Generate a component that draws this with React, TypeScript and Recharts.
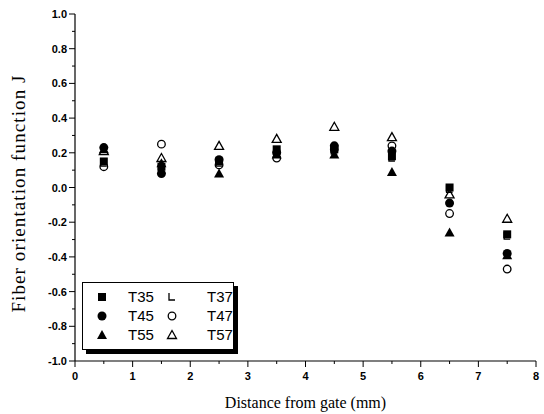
import React from 'react';
import { ScatterChart, Scatter, XAxis, YAxis } from 'recharts';

const positions = [0.5, 1.5, 2.5, 3.5, 4.5, 5.5, 6.5, 7.5];
const t35 = [0.15, 0.12, 0.15, 0.22, 0.22, 0.18, 0.0, -0.27];
const t37 = [0.14, 0.11, 0.14, 0.21, 0.21, 0.17, -0.01, -0.28];
const t45 = [0.23, 0.08, 0.16, 0.2, 0.24, 0.21, -0.09, -0.38];
const t47 = [0.12, 0.25, 0.13, 0.17, 0.22, 0.24, -0.15, -0.47];
const t55 = [0.22, 0.14, 0.08, 0.19, 0.19, 0.09, -0.26, -0.39];
const t57 = [0.21, 0.17, 0.24, 0.28, 0.35, 0.29, -0.04, -0.18];

const yTicks = [-1.0, -0.9, -0.8, -0.7, -0.6, -0.5, -0.4, -0.3, -0.2, -0.1, 0.0, 0.1, 0.2, 0.3, 0.4, 0.5, 0.6, 0.7, 0.8, 0.9, 1.0];
const xTicks = [0, 0.5, 1, 1.5, 2, 2.5, 3, 3.5, 4, 4.5, 5, 5.5, 6, 6.5, 7, 7.5, 8];

const toPts = (vals: number[]) => positions.map((x, i) => ({ x, y: vals[i] }));

const S = 4.5;
const Square = (p: any) => <rect x={p.cx - S + 0.5} y={p.cy - S + 0.5} width={2 * S - 1} height={2 * S - 1} fill="#000" />;
const Circle = (p: any) => <circle cx={p.cx} cy={p.cy} r={S} fill="#000" />;
const OpenCircle = (p: any) => <circle cx={p.cx} cy={p.cy} r={S - 0.7} fill="#fff" stroke="#000" strokeWidth={1.3} />;
const Tri = (p: any) => <polygon points={`${p.cx},${p.cy - S - 0.5} ${p.cx + S + 0.5},${p.cy + S - 0.5} ${p.cx - S - 0.5},${p.cy + S - 0.5}`} fill="#000" />;
const OpenTri = (p: any) => <polygon points={`${p.cx},${p.cy - S} ${p.cx + S},${p.cy + S - 1} ${p.cx - S},${p.cy + S - 1}`} fill="#fff" stroke="#000" strokeWidth={1.3} />;
const LMark = (p: any) => <path d={`M${p.cx - 3},${p.cy - 4} L${p.cx - 3},${p.cy + 3} L${p.cx + 3},${p.cy + 3}`} fill="none" stroke="#000" strokeWidth={1.3} />;

const tickFont = '"Liberation Sans", Arial, sans-serif';
const serif = '"Liberation Serif", "Times New Roman", serif';

const isMajor = (v: number, step: number) => Math.abs(Math.round(v / step) * step - v) < 1e-6;

const YTick = (p: any) => {
  const v = p.payload.value;
  const major = isMajor(v, 0.2);
  const x = p.x;
  const y = p.y;
  return (
    <g>
      <line x1={x - (major ? 6 : 3)} x2={x} y1={y} y2={y} stroke="#000" strokeWidth={1} />
      {major && (
        <text x={x - 8} y={y + 4} textAnchor="end" fontSize={11} fontFamily={tickFont} fontWeight="bold" fill="#000">
          {v.toFixed(1)}
        </text>
      )}
    </g>
  );
};

const XTick = (p: any) => {
  const v = p.payload.value;
  const major = isMajor(v, 1);
  const x = p.x;
  const y = p.y;
  return (
    <g>
      <line x1={x} x2={x} y1={y} y2={y + (major ? 6 : 3)} stroke="#000" strokeWidth={1} />
      {major && (
        <text x={x} y={y + 19} textAnchor="middle" fontSize={11} fontFamily={tickFont} fontWeight="bold" fill="#000">
          {String(v)}
        </text>
      )}
    </g>
  );
};

const legendItems = [
  [{ m: 'sq', l: 'T35' }, { m: 'L', l: 'T37' }],
  [{ m: 'ci', l: 'T45' }, { m: 'oc', l: 'T47' }],
  [{ m: 'tr', l: 'T55' }, { m: 'ot', l: 'T57' }],
];

const LegendIcon = ({ m }: { m: string }) => {
  const p = { cx: 7, cy: 7 };
  return (
    <svg width={14} height={14} style={{ display: 'block' }}>
      {m === 'sq' && <Square {...p} />}
      {m === 'L' && <LMark {...p} />}
      {m === 'ci' && <Circle {...p} />}
      {m === 'oc' && <OpenCircle {...p} />}
      {m === 'tr' && <Tri {...p} />}
      {m === 'ot' && <OpenTri {...p} />}
    </svg>
  );
};

export default function App() {
  return (
    <div style={{ position: 'absolute', left: 0, top: 0, width: 544, height: 414, background: '#fff' }}>
      <ScatterChart width={544} height={414} margin={{ top: 14, right: 8, bottom: 0, left: 0 }}>
        <XAxis
          type="number"
          dataKey="x"
          domain={[0, 8]}
          ticks={xTicks}
          interval={0}
          tick={<XTick />}
          tickLine={false}
          tickSize={0}
          tickMargin={0}
          axisLine={{ stroke: '#000', strokeWidth: 1.2 }}
          height={53}
          label={{ value: 'Distance from gate (mm)', position: 'insideBottom', offset: 6, fontSize: 16, fontFamily: serif, fill: '#000' }}
        />
        <XAxis xAxisId="top" orientation="top" type="number" dataKey="x" domain={[0, 8]} tick={false} tickLine={false} height={0} axisLine={{ stroke: '#000', strokeWidth: 1.2 }} />
        <YAxis
          type="number"
          dataKey="y"
          domain={[-1, 1]}
          ticks={yTicks}
          interval={0}
          tick={<YTick />}
          tickLine={false}
          tickSize={0}
          tickMargin={0}
          axisLine={{ stroke: '#000', strokeWidth: 1.2 }}
          width={75}
          label={{ value: 'Fiber orientation function J', angle: -90, position: 'insideLeft', offset: 10, dx: 8, dy: 6, style: { textAnchor: 'middle', letterSpacing: 1.1 }, fontSize: 19, fontFamily: serif, fill: '#000' }}
        />
        <YAxis yAxisId="right" orientation="right" type="number" dataKey="y" domain={[-1, 1]} tick={false} tickLine={false} width={0} axisLine={{ stroke: '#000', strokeWidth: 1.2 }} />
        <Scatter name="T47" data={toPts(t47)} shape={OpenCircle} isAnimationActive={false} />
        <Scatter name="T57" data={toPts(t57)} shape={OpenTri} isAnimationActive={false} />
        <Scatter name="T37" data={toPts(t37)} shape={LMark} isAnimationActive={false} />
        <Scatter name="T55" data={toPts(t55)} shape={Tri} isAnimationActive={false} />
        <Scatter name="T35" data={toPts(t35)} shape={Square} isAnimationActive={false} />
        <Scatter name="T45" data={toPts(t45)} shape={Circle} isAnimationActive={false} />
      </ScatterChart>
      <div
        style={{
          position: 'absolute',
          left: 82,
          top: 282,
          width: 152,
          height: 68,
          border: '1px solid #000',
          background: '#fff',
          boxShadow: '4px 4px 0 #000',
          fontFamily: tickFont,
          fontSize: 15,
          color: '#000',
          boxSizing: 'border-box',
          paddingTop: 4,
        }}
      >
        {legendItems.map((row, ri) => (
          <div key={ri} style={{ display: 'flex', alignItems: 'center', height: 19 }}>
            <div style={{ width: 12 }} />
            <LegendIcon m={row[0].m} />
            <div style={{ width: 19 }} />
            <span style={{ width: 30 }}>{row[0].l}</span>
            <div style={{ width: 7 }} />
            <LegendIcon m={row[1].m} />
            <div style={{ width: 28 }} />
            <span>{row[1].l}</span>
          </div>
        ))}
      </div>
    </div>
  );
}
